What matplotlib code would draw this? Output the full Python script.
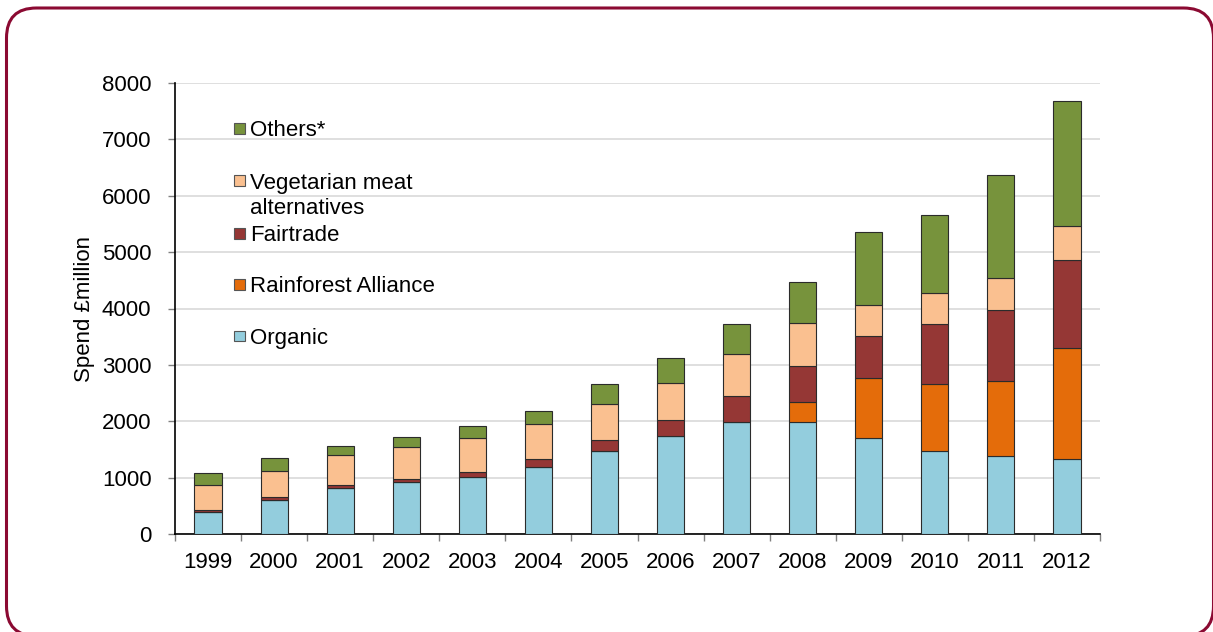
import numpy as np
import matplotlib
matplotlib.use("Agg")
import matplotlib.pyplot as plt
import matplotlib.patches as mpatches
from matplotlib.transforms import IdentityTransform

plt.rcParams['font.family'] = ['Liberation Sans', 'DejaVu Sans']

# --------------------------- data -----------------------------
years = ["1999", "2000", "2001", "2002", "2003", "2004", "2005",
         "2006", "2007", "2008", "2009", "2010", "2011", "2012"]
organic = [390, 610, 810, 915, 1005, 1195, 1470, 1730, 1980, 1980, 1705, 1470, 1380, 1330]
rainforest = [0, 0, 0, 0, 0, 0, 0, 0, 0, 365, 1070, 1190, 1335, 1970]
fairtrade = [30, 45, 60, 65, 95, 140, 195, 290, 460, 630, 745, 1065, 1260, 1560]
vegetarian = [450, 470, 530, 570, 610, 620, 645, 665, 755, 765, 550, 550, 570, 605]
others = [210, 225, 165, 165, 200, 230, 355, 430, 525, 730, 1290, 1385, 1825, 2210]

series_names = ["Organic", "Rainforest Alliance", "Fairtrade",
                "Vegetarian meat\nalternatives", "Others*"]
series_values = [organic, rainforest, fairtrade, vegetarian, others]
colors = ["#93CDDD", "#E46C0A", "#953735", "#FAC090", "#77933C"]

FS = 16

# ------------------------- figure ----------------------------
fig = plt.figure(figsize=(12.13, 6.32), dpi=100)
ax = fig.add_axes([175 / 1213, 98 / 632, 925 / 1213, 451 / 632])

x = np.arange(len(years))
bottom = np.zeros(len(years))
for vals, col in zip(series_values, colors):
    vals = np.array(vals, dtype=float)
    ax.bar(x, vals, width=0.41, bottom=bottom, color=col,
           edgecolor="#2b2b2b", linewidth=0.8, zorder=3)
    bottom += vals

ax.set_xlim(-0.5, len(years) - 0.5)
ax.set_ylim(0, 8000)
ax.set_yticks(range(0, 8001, 1000))
ax.set_xticks(x)
ax.set_xticklabels(years)
ax.set_xticks(np.arange(-0.5, len(years), 1.0), minor=True)
ax.tick_params(axis="x", which="major", length=0, pad=13, labelsize=FS)
ax.tick_params(axis="x", which="minor", length=5, color="#808080", width=1)
ax.tick_params(axis="y", length=5, color="#808080", width=1, pad=12, labelsize=FS)

ax.grid(axis="y", color="#D9D9D9", linewidth=1.2, zorder=0)
for s in ["top", "right"]:
    ax.spines[s].set_visible(False)
ax.spines["left"].set_color("black")
ax.spines["bottom"].set_color("black")
ax.spines["left"].set_linewidth(1.2)
ax.spines["bottom"].set_linewidth(1.2)

ax.set_ylabel("Spend £million", fontsize=FS, labelpad=5)

# custom legend (top to bottom)
legend_y = [0.439, 0.554, 0.667, 0.783, 0.900]
for name, col, ly in zip(series_names, colors, legend_y):
    ax.add_patch(mpatches.Rectangle((0.064, ly - 0.012), 0.012, 0.024,
                                    transform=ax.transAxes, facecolor=col,
                                    edgecolor="#555555", linewidth=0.8, zorder=4))
    lines = name.split("\n")
    for i, line in enumerate(lines):
        ax.text(0.081, ly - i * 0.056, line, transform=ax.transAxes,
                fontsize=FS, va="center_baseline", ha="left", zorder=4)

# rounded frame
frame = mpatches.FancyBboxPatch((6.5, -4), 1207, 628,
                                boxstyle="round,pad=0,rounding_size=30",
                                transform=IdentityTransform(),
                                facecolor="none", edgecolor="#8B0A32",
                                linewidth=2.2)
fig.patches.append(frame)

fig.savefig("out.png", dpi=100)
